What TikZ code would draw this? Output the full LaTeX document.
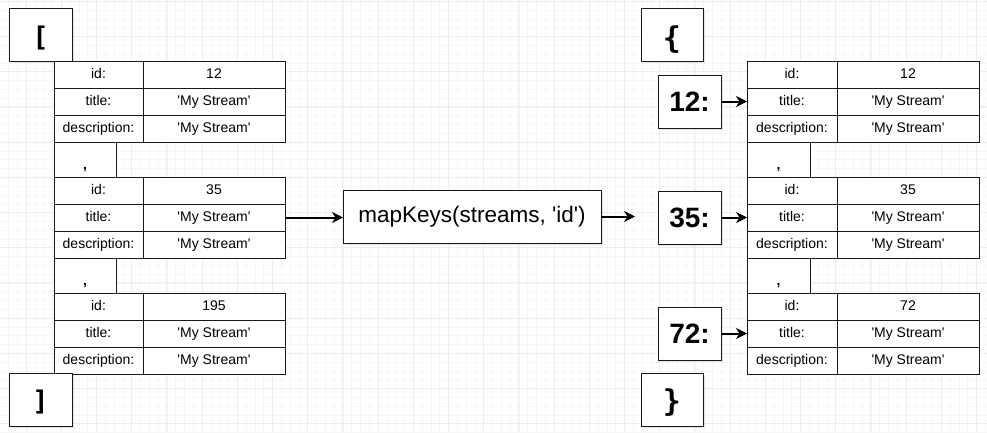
\documentclass[tikz,border=0pt]{standalone}
\usepackage{fontspec}
\setmainfont{Liberation Sans}
\newfontfamily\bracketfont{DejaVu Sans Mono}
\usetikzlibrary{arrows.meta,shadows}
\newcommand\sq{\textquotesingle}
\tikzset{
  gminor/.style={draw=black!3.5, line width=0.6pt},
  gmajor/.style={draw=black!7, line width=0.8pt},
  shade box/.style={drop shadow={shadow xshift=2pt, shadow yshift=-2pt, opacity=0.2}},
  cell/.style={draw=black!90, line width=0.9pt, fill=white, inner sep=0pt, outer sep=0pt,
    minimum height=27pt, anchor=north west, font=\fontsize{14}{16}\selectfont,
    text height=10pt, text depth=3pt},
  commabox/.style={cell, minimum width=62pt, minimum height=35pt},
  commatext/.style={anchor=base, inner sep=0pt, font=\bfseries\fontsize{14}{16}\selectfont},
  bracketbox/.style={draw=black!90, line width=0.9pt, fill=white, inner sep=0pt, outer sep=0pt,
    minimum width=63pt, minimum height=53pt, anchor=north west, shade box,
    text depth=0pt, font=\bracketfont\bfseries\fontsize{27}{27}\selectfont},
  bracebox/.style={bracketbox, minimum width=62pt, font=\bracketfont\bfseries\fontsize{30}{30}\selectfont},
  keybox/.style={draw=black!90, line width=0.9pt, fill=white, inner sep=0pt, outer sep=0pt,
    minimum width=63pt, minimum height=53pt, anchor=north west, shade box,
    font=\bfseries\fontsize{28}{30}\selectfont},
  funcbox/.style={draw=black!90, line width=0.9pt, fill=white, inner sep=0pt, outer sep=0pt,
    minimum width=258pt, minimum height=53pt, anchor=north west, shade box,
    font=\fontsize{22.5}{26}\selectfont},
  arr/.style={draw=black, line width=2pt, -{Stealth[length=11pt, width=11pt, inset=3.5pt]}}
}
% #1 prefix, #2 x, #3 y, #4 label width, #5 value width, #6 id value
\newcommand\streamtable[6]{%
  \node[cell, minimum width=#4pt] (#1a) at (#2,#3) {id:};
  \node[cell, minimum width=#5pt] (#1av) at (#1a.north east) {#6};
  \node[cell, minimum width=#4pt] (#1b) at (#1a.south west) {title:};
  \node[cell, minimum width=#5pt] (#1bv) at (#1b.north east) {\sq My Stream\sq};
  \node[cell, minimum width=#4pt] (#1c) at (#1b.south west) {description:};
  \node[cell, minimum width=#5pt] (#1cv) at (#1c.north east) {\sq My Stream\sq};
}
\begin{document}
\begin{tikzpicture}[x=1pt, y=-1pt]
  \useasboundingbox (0,0) rectangle (987,432);
  \fill[white] (0,0) rectangle (987,432);
  % background grid
  \foreach \k in {0,...,112} \draw[gminor] ({8.4+\k*8.8},0) -- ({8.4+\k*8.8},432);
  \foreach \k in {0,...,49} \draw[gminor] (0,{1.2+\k*8.8}) -- (987,{1.2+\k*8.8});
  \foreach \k in {0,...,27} \draw[gmajor] ({26+\k*35.2},0) -- ({26+\k*35.2},432);
  \foreach \k in {0,...,12} \draw[gmajor] (0,{1.2+\k*35.2}) -- (987,{1.2+\k*35.2});

  % ---------- left: array ----------
  \node[bracketbox, text height=23pt] (lopen) at (9,8) {[};
  \streamtable{L1}{54}{61}{89}{142}{12}
  \node[commabox] (Lk1) at (L1c.south west) {};
  \node[commatext] (Lk1t) at ([yshift=8pt]Lk1.south) {,};
  \streamtable{L2}{54}{177}{89}{142}{35}
  \node[commabox] (Lk2) at (L2c.south west) {};
  \node[commatext] (Lk2t) at ([yshift=8pt]Lk2.south) {,};
  \streamtable{L3}{54}{293}{89}{142}{195}
  \node[bracketbox, text height=21pt] (lclose) at (9,373) {]};

  % ---------- middle ----------
  \node[funcbox] (map) at (343,190) {mapKeys(streams, \sq id\sq)};
  \coordinate (mapend) at (635,217);
  \draw[arr] (L2bv.east) -- (map.west |- L2bv.east);
  \draw[arr] (map.east) -- (map.east -| mapend);

  % ---------- right: object ----------
  \node[bracebox, text height=27pt] (ropen) at (641,8) {\{};
  \streamtable{R1}{747}{61}{90}{142}{12}
  \node[commabox, minimum width=63pt] (Rk1) at (R1c.south west) {};
  \node[commatext] (Rk1t) at ([yshift=8pt]Rk1.south) {,};
  \streamtable{R2}{747}{177}{90}{142}{35}
  \node[commabox, minimum width=63pt] (Rk2) at (R2c.south west) {};
  \node[commatext] (Rk2t) at ([yshift=8pt]Rk2.south) {,};
  \streamtable{R3}{747}{293}{90}{142}{72}
  \node[bracebox, text height=24pt] (rclose) at (641,373) {\}};

  \node[keybox] (k12) at (658,75) {12:};
  \node[keybox] (k35) at (658,191) {35:};
  \node[keybox] (k72) at (658,307) {72:};
  \draw[arr] (k12.east) -- (R1b.west);
  \draw[arr] (k35.east) -- (R2b.west);
  \draw[arr] (k72.east) -- (R3b.west);
\end{tikzpicture}
\end{document}
